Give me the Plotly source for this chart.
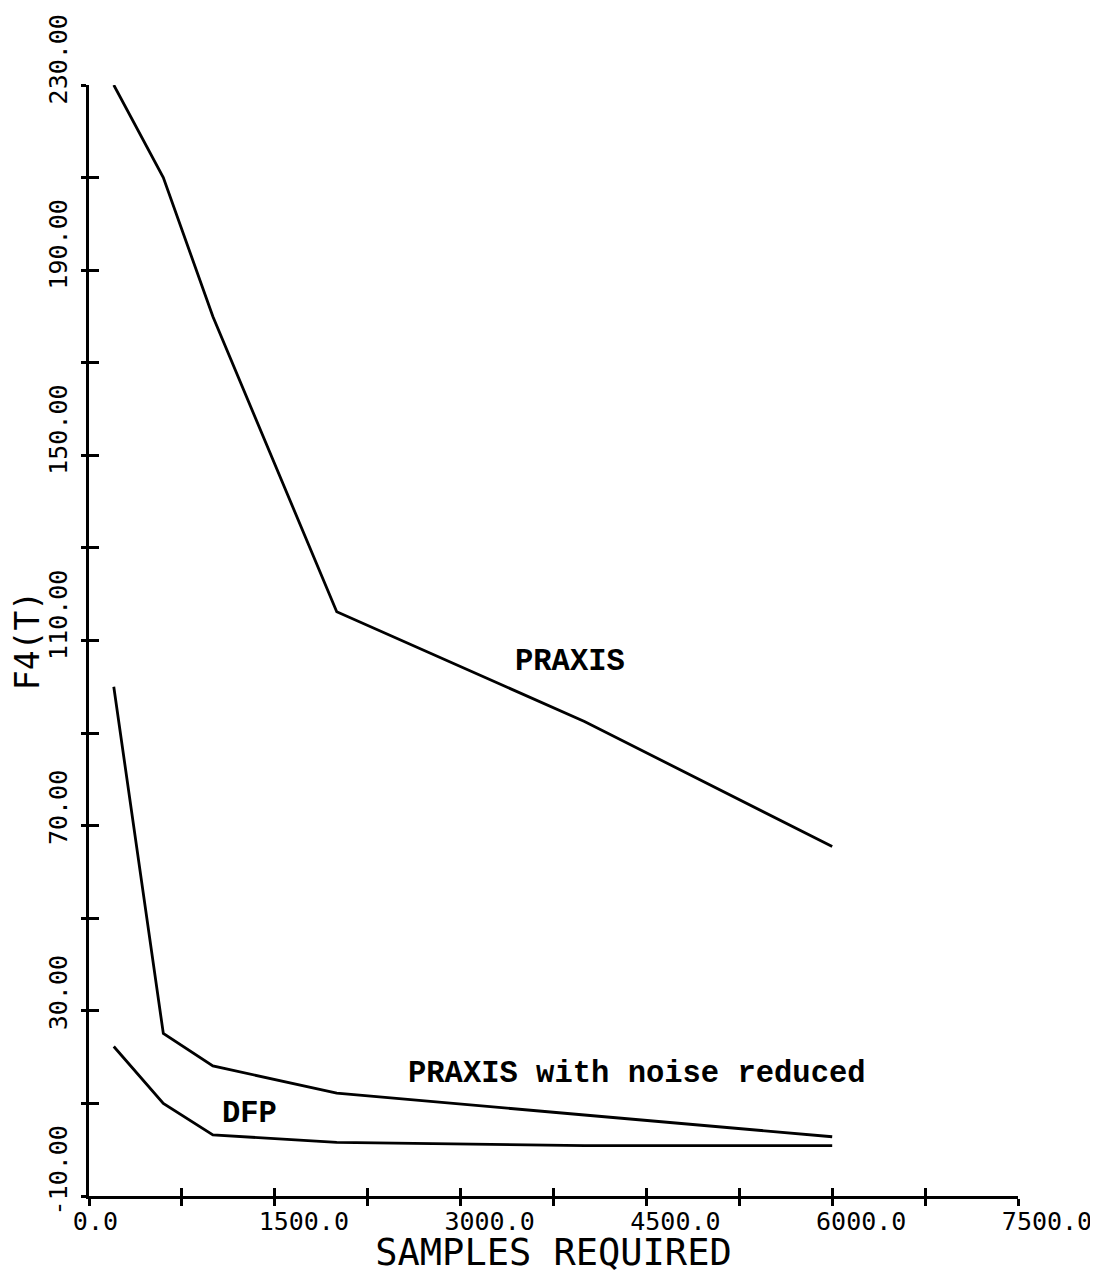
import plotly.graph_objects as go

# ---- data ----
x_praxis = [200, 600, 1000, 2000, 4000, 6000]
y_praxis = [230, 210, 180, 116.2, 92.5, 65.5]

x_noise = [200, 600, 1000, 2000, 4000, 6000]
y_noise = [100, 25.1, 18.1, 12.2, 7.5, 2.8]

x_dfp = [200, 600, 1000, 2000, 4000, 6000]
y_dfp = [22.3, 10.0, 3.2, 1.6, 0.9, 0.9]

x_tickvals = [0, 1500, 3000, 4500, 6000, 7500]
x_ticktext = ["0.0", "1500.0", "3000.0", "4500.0", "6000.0", "7500.0"]
y_tickvals = [-10, 30, 70, 110, 150, 190, 230]
y_ticktext = ["-10.00", "30.00", "70.00", "110.00", "150.00", "190.00", "230.00"]

labels = ["PRAXIS", "PRAXIS with noise reduced", "DFP"]
label_x = [3885, 4426, 1292]
label_y = [105.4, 16.4, 7.7]

X_RANGE = [0, 7500]
Y_RANGE = [-10, 230]

NB = "\u00a0"
def pad(s, n=6):
    return s + NB * (n - len(s))

TICKFONT = dict(family="DejaVu Sans Mono", size=25, color="black")
LINE = dict(color="black", width=2.8)

fig = go.Figure()
for xs, ys in [(x_praxis, y_praxis), (x_noise, y_noise), (x_dfp, y_dfp)]:
    fig.add_trace(go.Scatter(x=xs, y=ys, mode="lines", line=LINE,
                             showlegend=False, hoverinfo="skip"))
# invisible trace to carry the overlay axes (inside half of crossing ticks)
fig.add_trace(go.Scatter(x=[None], y=[None], xaxis="x2", yaxis="y2",
                         mode="lines", showlegend=False, hoverinfo="skip"))

for t, xx, yy in zip(labels, label_x, label_y):
    fig.add_annotation(x=xx, y=yy, xref="x", yref="y", text="<b>" + t + "</b>",
                       showarrow=False,
                       font=dict(family="Liberation Mono", size=30.5, color="black"),
                       xanchor="center", yanchor="middle")

fig.update_layout(
    width=1090, height=1266,
    margin=dict(l=81, r=80, t=77, b=78),
    paper_bgcolor="white", plot_bgcolor="white",
    xaxis=dict(range=X_RANGE, showgrid=False, zeroline=False, automargin=False,
               showline=True, linecolor="black", linewidth=3,
               tickmode="array", tickvals=x_tickvals,
               ticktext=[pad(s) for s in x_ticktext],
               ticks="outside", ticklen=7, tickwidth=2.5, tickcolor="black",
               minor=dict(tickvals=[750, 2250, 3750, 5250, 6750], ticks="outside",
                          ticklen=7, tickwidth=2.5, tickcolor="black"),
               tickfont=TICKFONT, ticklabelshift=29, ticklabelstandoff=-6,
               ticklabeloverflow="allow",
               title=dict(text="SAMPLES REQUIRED",
                          font=dict(family="DejaVu Sans Mono", size=37, color="black"),
                          standoff=6)),
    xaxis2=dict(range=X_RANGE, overlaying="x", anchor="y", side="bottom",
                automargin=False,
                showgrid=False, zeroline=False, showline=False,
                showticklabels=False, tickmode="array", tickvals=x_tickvals,
                ticks="inside", ticklen=8, tickwidth=2.5, tickcolor="black",
                minor=dict(tickvals=[750, 2250, 3750, 5250, 6750], ticks="inside",
                           ticklen=8, tickwidth=2.5, tickcolor="black")),
    yaxis=dict(range=Y_RANGE, showgrid=False, zeroline=False, automargin=False,
               showline=True, linecolor="black", linewidth=3,
               tickmode="array", tickvals=y_tickvals,
               ticktext=[pad(s) for s in y_ticktext],
               ticks="outside", ticklen=5, tickwidth=2.5, tickcolor="black",
               minor=dict(tickvals=[10, 50, 90, 130, 170, 210], ticks="outside",
                          ticklen=5, tickwidth=2.5, tickcolor="black"),
               tickfont=TICKFONT, tickangle=-90, ticklabelshift=-22,
               ticklabelstandoff=4, ticklabeloverflow="allow",
               title=dict(text="F4(T)",
                          font=dict(family="DejaVu Sans Mono", size=33, color="black"),
                          standoff=10)),
    yaxis2=dict(range=Y_RANGE, overlaying="y", anchor="x", side="left",
                automargin=False,
                showgrid=False, zeroline=False, showline=False,
                showticklabels=False, tickmode="array", tickvals=y_tickvals,
                ticks="inside", ticklen=10, tickwidth=2.5, tickcolor="black",
                minor=dict(tickvals=[10, 50, 90, 130, 170, 210], ticks="inside",
                           ticklen=10, tickwidth=2.5, tickcolor="black")),
)

fig.write_html("out.html")
